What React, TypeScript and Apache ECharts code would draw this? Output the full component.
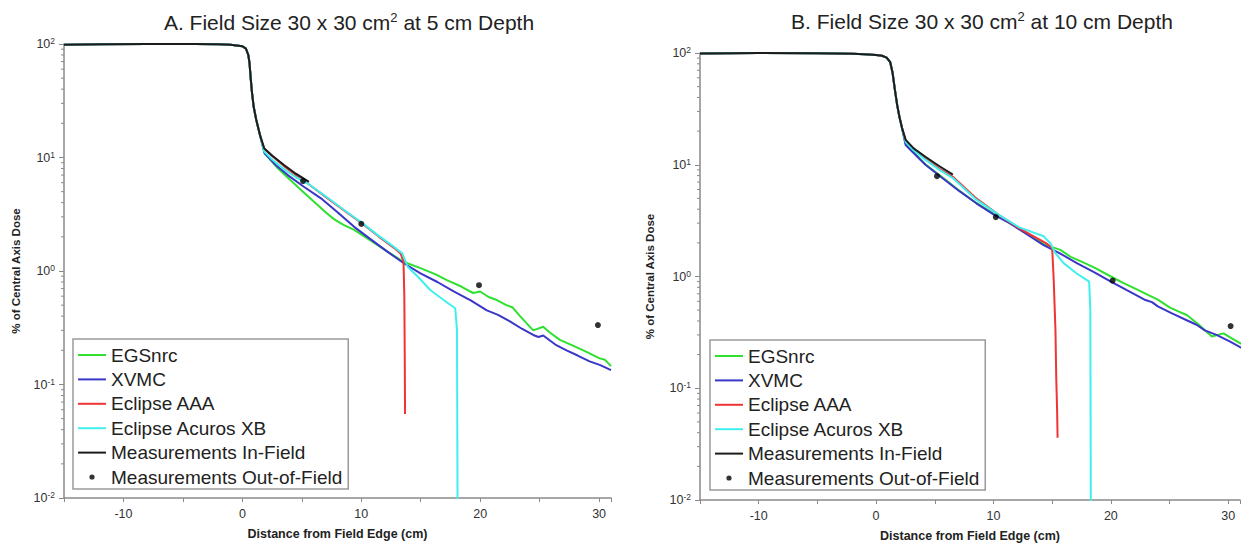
import React, { useEffect, useRef } from 'react';
import * as echarts from 'echarts';

const FONT = '"Liberation Sans", Arial, sans-serif';
const X_MIN = -15;
const X_MAX = 31;
const Y_MIN = 0.01;
const Y_MAX = 100;
const X_LABELED = [-10, 0, 10, 20, 30];
const DECADES = [0.01, 0.1, 1, 10];
const MINOR_STEPS = [2, 3, 4, 5, 6, 7, 8, 9];

const NAMES = ['EGSnrc', 'XVMC', 'Eclipse AAA', 'Eclipse Acuros XB', 'Measurements In-Field', 'Measurements Out-of-Field'];
const COLORS = ['#2fe02f', '#3a36c8', '#ef3434', '#40eeee', '#1c1c1c', '#000000'];

const TITLES = [
  'A. Field Size 30 x 30 cm{sup|2} at 5 cm Depth',
  'B. Field Size 30 x 30 cm{sup|2} at 10 cm Depth',
];

// ---- Panel A (5 cm depth) ----
const A_PEN: number[][] = [
  [-15, 98.5], [-12, 99.3], [-8, 100], [-4, 100], [-2, 99.5], [-1, 98.5], [-0.5, 97], [0, 95.5],
  [0.3, 91], [0.5, 80], [0.6, 68], [0.7, 50], [0.8, 38], [0.95, 28], [1.17, 21.4], [1.5, 15.5],
];
const A_EGS: number[][] = [
  [1.87, 10.9], [3.0, 8.0], [4.66, 5.5], [6.0, 4.1], [7.0, 3.3], [7.73, 2.85], [8.5, 2.55], [9.4, 2.3],
  [10.8, 1.85], [12.2, 1.48], [13.6, 1.2], [14.98, 1.06], [16.3, 0.93], [17.2, 0.83], [18.4, 0.73],
  [19.4, 0.64], [20.0, 0.66], [20.7, 0.59], [21.4, 0.555], [22.2, 0.5], [22.7, 0.48], [23.35, 0.4],
  [24.46, 0.3], [25.3, 0.323], [25.8, 0.29], [26.7, 0.247], [27.8, 0.22], [28.9, 0.195], [30.04, 0.17],
  [30.5, 0.165], [31, 0.145],
];
const A_XVMC: number[][] = [
  [1.87, 10.9], [2.8, 8.6], [3.82, 7.0], [5.2, 5.5], [6.61, 4.37], [8.0, 3.3], [9.4, 2.45], [10.8, 1.9],
  [12.19, 1.48], [13.58, 1.17], [14.98, 0.955], [16.4, 0.8], [17.77, 0.66], [19.2, 0.55], [20.56, 0.45],
  [21.5, 0.41], [22.5, 0.36], [23.5, 0.31], [24.46, 0.273], [24.9, 0.262], [25.3, 0.27], [26.4, 0.222],
  [27.26, 0.2], [28.2, 0.18], [29.2, 0.16], [30.1, 0.148], [31, 0.134],
];
const A_AAA: number[][] = [
  [1.84, 12], [2.5, 10.3], [3.5, 8.4], [4.5, 7.0], [5.5, 5.9], [7, 4.5], [8.5, 3.45], [10, 2.65],
  [11.5, 2.0], [12.75, 1.6], [13.3, 1.43], [13.55, 1.22], [13.62, 0.6], [13.66, 0.15], [13.68, 0.055],
];
const A_AXB: number[][] = [
  [1.84, 11.3], [2.5, 9.6], [3.5, 7.9], [4.5, 6.7], [5.5, 5.9], [7, 4.55], [8.5, 3.48], [10, 2.68],
  [11.5, 2.03], [12.75, 1.63], [13.45, 1.43], [13.9, 1.09], [14.8, 0.88], [15.8, 0.68], [16.5, 0.6],
  [17.3, 0.52], [17.9, 0.47], [18.05, 0.3], [18.1, 0.005],
];
const A_INFIELD: number[][] = [[1.84, 12], [2.5, 10.4], [3.5, 8.6], [4.5, 7.2], [5.6, 6.1]];
const A_OUTFIELD: number[][] = [[5.1, 6.2], [10.0, 2.6], [19.9, 0.75], [29.9, 0.334]];

// ---- Panel B (10 cm depth) ----
const B_PEN: number[][] = [
  [-15, 99], [-10, 99.8], [-5, 99.5], [-2, 98.5], [-1, 97.5], [0, 96], [0.5, 94.5], [0.9, 91],
  [1.2, 83], [1.4, 67], [1.6, 47], [1.8, 34], [2.0, 26.5], [2.2, 21.5],
];
const B_EGS: number[][] = [
  [2.52, 15.3], [4.2, 10.1], [5.67, 7.7], [7.1, 5.85], [8.54, 4.55], [10.0, 3.65], [11.41, 3.0],
  [12.8, 2.45], [14.27, 1.95], [15.7, 1.73], [16.57, 1.5], [17.5, 1.36], [18.6, 1.2], [20.0, 1.0],
  [21.0, 0.88], [22.3, 0.76], [23.2, 0.68], [24.0, 0.62], [25.0, 0.53], [25.7, 0.49], [26.5, 0.45],
  [27.5, 0.37], [28.6, 0.29], [29.6, 0.31], [30.3, 0.28], [31.1, 0.25],
];
const B_XVMC: number[][] = [
  [2.52, 15.0], [2.81, 14.0], [4.2, 10.0], [5.67, 7.57], [7.1, 5.8], [8.54, 4.52], [10.0, 3.6],
  [11.41, 2.99], [12.8, 2.4], [14.27, 1.91], [15.7, 1.6], [17.14, 1.31], [18.6, 1.09], [20.0, 0.9],
  [21.4, 0.75], [22.87, 0.62], [23.5, 0.59], [24.0, 0.54], [25.16, 0.47], [26.6, 0.4], [27.3, 0.37],
  [28.0, 0.33], [29.0, 0.3], [30.2, 0.26], [31.2, 0.228],
];
const B_AAA: number[][] = [
  [2.52, 16.5], [3.2, 13.9], [4.2, 11.4], [5.4, 9.2], [6.54, 7.8], [8.54, 5.0], [10.55, 3.5],
  [12.2, 2.7], [13.7, 2.21], [14.5, 1.98], [15.0, 1.8], [15.13, 0.94], [15.28, 0.33], [15.35, 0.12],
  [15.42, 0.064], [15.46, 0.036],
];
const B_AXB: number[][] = [
  [2.52, 16.0], [3.2, 13.5], [4.2, 11.1], [5.4, 9.0], [6.54, 7.6], [8.54, 4.87], [10.55, 3.5],
  [12.2, 2.75], [14.27, 2.29], [14.85, 1.98], [15.3, 1.6], [16.0, 1.31], [17.0, 1.08], [18.15, 0.9],
  [18.25, 0.5], [18.3, 0.005],
];
const B_INFIELD: number[][] = [[2.52, 16.7], [3.2, 14.0], [4.2, 11.8], [5.4, 9.7], [6.54, 8.15]];
const B_OUTFIELD: number[][] = [[5.19, 7.9], [10.2, 3.4], [20.15, 0.92], [30.2, 0.36]];

const PANELS = [
  { pen: A_PEN, lines: [A_EGS, A_XVMC, A_AAA, A_AXB, A_INFIELD], dots: A_OUTFIELD },
  { pen: B_PEN, lines: [B_EGS, B_XVMC, B_AAA, B_AXB, B_INFIELD], dots: B_OUTFIELD },
];

const GRIDS = [
  { left: 64, right: 639, top: 44, bottom: 57 },
  { left: 700, right: 10, top: 53, bottom: 55 },
];
const TITLE_POS = [{ x: 344, y: 6 }, { x: 977, y: 5 }];
const LEGEND_POS = [{ left: 73, top: 339 }, { left: 710, top: 340 }];
const Y_NAME_GAP = [42, 44];

const Y_MINOR = DECADES.flatMap((d) => MINOR_STEPS.map((m) => d * m));

function supLabel(v: number) {
  const e = Math.round(Math.log10(v));
  return '10{sup|' + e + '}';
}

function buildOption() {
  const DRAW_ORDER = [0, 1, 3, 2, 4];
  const series: any[] = [];
  PANELS.forEach((p, i) => {
    DRAW_ORDER.forEach((k) => {
      series.push({
        type: 'line',
        name: NAMES[k],
        xAxisIndex: i,
        yAxisIndex: i,
        data: [...p.pen, ...p.lines[k]],
        symbol: 'none',
        smooth: false,
        lineStyle: { color: COLORS[k], width: 2 },
        itemStyle: { color: COLORS[k] },
        z: 2 + k,
      });
    });
    series.push({
      type: 'scatter',
      name: NAMES[5],
      xAxisIndex: i,
      yAxisIndex: i,
      data: p.dots,
      symbol: 'circle',
      symbolSize: 6,
      itemStyle: { color: COLORS[5] },
      z: 10,
    });
    series.push({
      type: 'custom',
      name: 'minor-ticks-' + i,
      xAxisIndex: i,
      yAxisIndex: i,
      silent: true,
      clip: false,
      data: Y_MINOR.map((v) => [X_MIN, v]),
      renderItem: (_params: any, api: any) => {
        const pt = api.coord([api.value(0), api.value(1)]);
        return {
          type: 'line',
          shape: { x1: pt[0] - 3, y1: pt[1], x2: pt[0], y2: pt[1] },
          style: { stroke: '#8a8a8a', lineWidth: 1 },
        };
      },
      z: 1,
    });
  });

  const LINE_ICON = 'path://M0 0M28 14M0 6L28 6L28 8L0 8Z';
  const DOT_ICON = 'path://M0 0M28 14M16.6 7A2.6 2.6 0 1 1 11.4 7A2.6 2.6 0 1 1 16.6 7Z';
  const legendIcons = NAMES.map((n, k) => ({ name: n, icon: k === 5 ? DOT_ICON : LINE_ICON, itemStyle: { color: COLORS[k] } }));

  return {
    animation: false,
    backgroundColor: '#ffffff',
    textStyle: { fontFamily: FONT },
    title: TITLES.map((t, i) => ({
      text: t,
      left: TITLE_POS[i].x,
      top: TITLE_POS[i].y,
      textAlign: 'center',
      textStyle: {
        fontFamily: FONT,
        fontSize: 21,
        fontWeight: 'normal',
        color: '#222',
        rich: {
          sup: { fontSize: 13, verticalAlign: 'top', padding: [0, 0, 9, 0], color: '#222', fontFamily: FONT },
        },
      },
    })),
    legend: LEGEND_POS.map((lp) => ({
      left: lp.left,
      top: lp.top,
      orient: 'vertical',
      selectedMode: false,
      data: legendIcons,
      itemWidth: 28,
      itemHeight: 14,
      itemGap: 5.4,
      padding: [6.5, 6, 2.5, 5],
      borderColor: '#9a9a9a',
      borderWidth: 1.5,
      backgroundColor: '#fff',
      textStyle: { fontFamily: FONT, fontSize: 19, color: '#222' },
    })),
    grid: GRIDS,
    xAxis: GRIDS.map((_, i) => ({
      type: 'value',
      gridIndex: i,
      min: X_MIN,
      max: X_MAX,
      interval: 5,
      name: 'Distance from Field Edge (cm)',
      nameLocation: 'middle',
      nameGap: 29,
      nameTextStyle: { fontFamily: FONT, fontSize: 12.5, fontWeight: 'bold', color: '#222' },
      axisLine: { show: true, onZero: false, lineStyle: { color: '#8a8a8a', width: 1.5 } },
      axisTick: { show: true, length: 4, lineStyle: { color: '#8a8a8a' } },
      axisLabel: {
        fontFamily: FONT,
        fontSize: 12.5,
        color: '#333',
        margin: 9,
        formatter: (v: number) => (X_LABELED.includes(v) ? String(v) : ''),
      },
      splitLine: { show: false },
    })),
    yAxis: GRIDS.map((_, i) => ({
      type: 'log',
      gridIndex: i,
      logBase: 10,
      min: Y_MIN,
      max: Y_MAX,
      name: '% of Central Axis Dose',
      nameLocation: 'middle',
      nameGap: Y_NAME_GAP[i],
      nameTextStyle: { fontFamily: FONT, fontSize: 11.5, fontWeight: 'bold', color: '#222' },
      axisLine: { show: true, onZero: false, lineStyle: { color: '#8a8a8a', width: 1.5 } },
      axisTick: { show: true, length: 5, lineStyle: { color: '#8a8a8a' } },
      axisLabel: {
        fontFamily: FONT,
        fontSize: 12.5,
        color: '#333',
        margin: 9,
        formatter: supLabel,
        rich: { sup: { fontSize: 8.5, verticalAlign: 'top', padding: [0, 0, 6, 0], color: '#333', fontFamily: FONT } },
      },
      splitLine: { show: false },
      minorTick: { show: false },
    })),
    series,
  };
}

export default function App() {
  const ref = useRef<HTMLDivElement>(null);
  useEffect(() => {
    document.body.style.margin = '0';
    const chart = echarts.init(ref.current!, null, { renderer: 'svg' });
    chart.setOption(buildOption() as any);
    return () => chart.dispose();
  }, []);
  return <div ref={ref} style={{ width: 1250, height: 555, background: '#fff' }} />;
}
